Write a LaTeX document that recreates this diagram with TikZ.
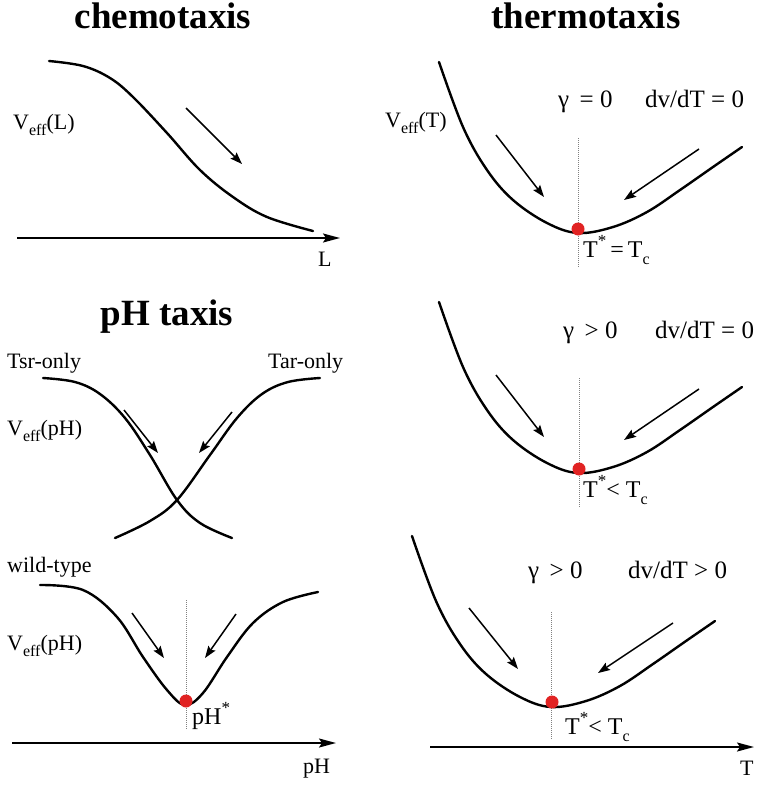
\documentclass[tikz,border=0pt]{standalone}
\usepackage{fontspec}
\setmainfont{Liberation Serif}
\usetikzlibrary{arrows.meta}
\definecolor{dotred}{RGB}{225,35,35}
\newcommand{\lowsub}[1]{\raisebox{-0.3em}{\fontsize{16}{16}\selectfont #1}}
\newcommand{\hisup}[1]{\raisebox{0.45em}{\fontsize{17}{17}\selectfont #1}}
\begin{document}
\begin{tikzpicture}[x=1pt,y=-1pt,
  curve/.style={line width=2.4pt, line cap=round},
  flow/.style={line width=1.5pt,-{Stealth[length=12pt,width=8.5pt,inset=2pt]}},
  axisline/.style={line width=1.8pt,-{Stealth[length=17pt,width=9pt,inset=3pt]}},
  guide/.style={gray, line width=0.7pt, dash pattern=on 1pt off 1pt},
  dot/.style={circle, fill=dotred, inner sep=0pt, minimum size=13pt},
  title/.style={font=\fontsize{37}{40}\selectfont\bfseries, anchor=base, inner sep=0pt},
  lab/.style={font=\fontsize{22}{26}\selectfont, anchor=base west, inner sep=0pt},
  midlab/.style={font=\fontsize{24}{27}\selectfont, anchor=base west, inner sep=0pt},
  biglab/.style={font=\fontsize{25}{28}\selectfont, anchor=base west, inner sep=0pt},
]
\useasboundingbox (0,0) rectangle (759,787);

% titles
\node[title] (tchem) at (163,28) {chemotaxis};
\node[title] (tthermo) at (586,28) {thermotaxis};
\node[title] (tph) at (167,325) {pH taxis};

% ---------- chemotaxis ----------
\draw[curve] plot[smooth,tension=0.6] coordinates {(49,61) (83,66) (110,78) (133,97) (167,133) (200,170) (233,197) (267,217) (313,231)};
\coordinate (c1s) at (186,108); \coordinate (c1e) at (242,164);
\draw[flow] (c1s) -- (c1e);
\coordinate (axLs) at (17,238); \coordinate (axLe) at (340,238);
\draw[axisline] (axLs) -- (axLe);
\node[lab] (lL) at (318,266) {L};
\node[lab] (vL) at (13,129) {V\lowsub{eff}(L)};

% ---------- pH taxis ----------
\node[lab] (tsr) at (7,368) {Tsr-only};
\node[lab] (tar) at (268,368) {Tar-only};
\node[lab] (vpH1) at (7,435) {V\lowsub{eff}(pH)};
\draw[curve] plot[smooth,tension=0.6] coordinates {(43,378) (75,382) (100,394) (125,418) (150,455) (177,500) (200,523) (232,538)};
\draw[curve] plot[smooth,tension=0.6] coordinates {(320,378) (288,382) (262,394) (237,418) (210,455) (177,500) (150,521) (115,538)};
\coordinate (p1s) at (124,410); \coordinate (p1e) at (158,453);
\coordinate (p2s) at (232,412); \coordinate (p2e) at (199,453);
\draw[flow] (p1s) -- (p1e);
\draw[flow] (p2s) -- (p2e);

\node[lab] (wt) at (7,572) {wild-type};
\node[lab] (vpH2) at (7,650) {V\lowsub{eff}(pH)};
\draw[guide] (186,600) -- (186,730);
\draw[curve] plot[smooth,tension=0.6] coordinates {(40,585) (83,590) (117,617) (143,657) (167,690) (185,705) (203,693) (227,657) (253,623) (283,602) (318,592)};
\node[dot] (dpH) at (186,701) {};
\node[midlab] (phstar) at (192,724) {pH\hisup{*}};
\coordinate (w1s) at (132,613); \coordinate (w1e) at (164,658);
\coordinate (w2s) at (236,614); \coordinate (w2e) at (205,658);
\draw[flow] (w1s) -- (w1e);
\draw[flow] (w2s) -- (w2e);
\coordinate (axPs) at (12,743); \coordinate (axPe) at (336,743);
\draw[axisline] (axPs) -- (axPe);
\node[lab] (lpH) at (303,773) {pH};

% ---------- thermotaxis ----------
\def\thermocurve{plot[smooth,tension=0.6] coordinates {(-139,-171) (-115,-106) (-91,-63) (-65,-33) (-31,-10) (0,0) (35,-6) (69,-21) (102,-43) (135,-66) (164,-86)}}

% panel 1
\node[lab] (vT) at (385,127) {V\lowsub{eff}(T)};
\node[biglab] (g1) at (558,107) {γ \,= 0};
\node[biglab] (dv1) at (645,107) {dv/dT = 0};
\draw[guide] (578,138) -- (578,267);
\begin{scope}[shift={(578,233)}]
\draw[curve] \thermocurve;
\end{scope}
\node[dot] (d1) at (578,229) {};
\node[midlab] (ts1) at (583,257) {T\hisup{*}\,=\,T\lowsub{c}};
\coordinate (a1s) at (496,135); \coordinate (a1e) at (544,197);
\coordinate (a2s) at (699,149); \coordinate (a2e) at (624,200);
\draw[flow] (a1s) -- (a1e);
\draw[flow] (a2s) -- (a2e);

% panel 2
\node[biglab] (g2) at (563,338) {γ \,> 0};
\node[biglab] (dv2) at (655,338) {dv/dT = 0};
\draw[guide] (579,378) -- (579,508);
\begin{scope}[shift={(578,473)}]
\draw[curve] \thermocurve;
\end{scope}
\node[dot] (d2) at (579,469) {};
\node[midlab] (ts2) at (583,497) {T\hisup{*}< T\lowsub{c}};
\coordinate (b1s) at (496,375); \coordinate (b1e) at (544,437);
\coordinate (b2s) at (699,389); \coordinate (b2e) at (624,440);
\draw[flow] (b1s) -- (b1e);
\draw[flow] (b2s) -- (b2e);

% panel 3
\node[biglab] (g3) at (528,578) {γ \,> 0};
\node[biglab] (dv3) at (628,578) {dv/dT > 0};
\draw[guide] (551,612) -- (551,740);
\begin{scope}[shift={(551,707)}]
\draw[curve] \thermocurve;
\end{scope}
\node[dot] (d3) at (552,702) {};
\node[midlab] (ts3) at (565,734) {T\hisup{*}< T\lowsub{c}};
\coordinate (e1s) at (469,608); \coordinate (e1e) at (518,669);
\coordinate (e2s) at (673,623); \coordinate (e2e) at (598,673);
\draw[flow] (e1s) -- (e1e);
\draw[flow] (e2s) -- (e2e);
\coordinate (axTs) at (430,747); \coordinate (axTe) at (754,747);
\draw[axisline] (axTs) -- (axTe);
\node[lab] (lT) at (740,775) {T};
\end{tikzpicture}
\end{document}
